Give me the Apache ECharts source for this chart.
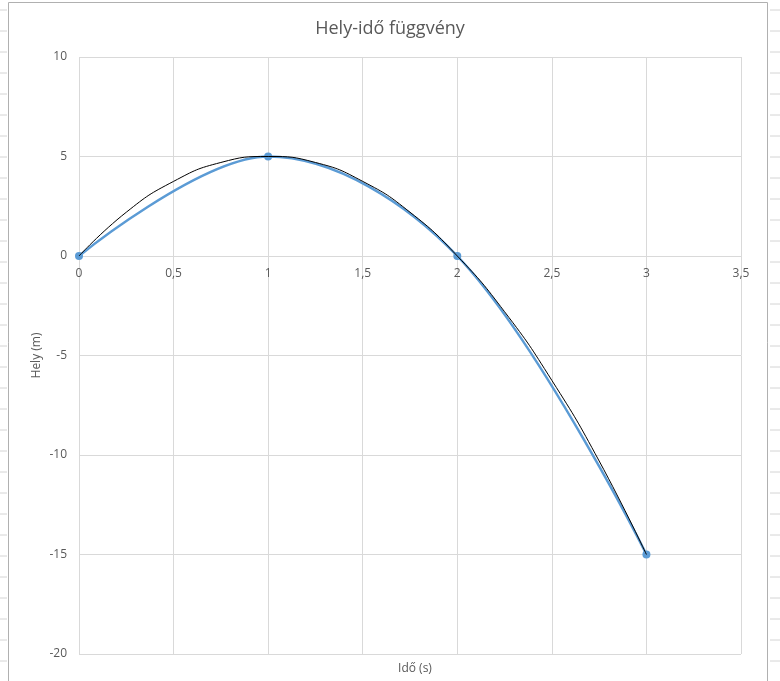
<!DOCTYPE html>
<html>
<head>
<meta charset="utf-8">
<script src="https://cdn.jsdelivr.net/npm/echarts@6/dist/echarts.min.js"></script>
<style>
html,body{margin:0;padding:0;background:#fff;}
#c{width:780px;height:681px;}
</style>
</head>
<body>
<div id="c"></div>
<script>
// Data
var measuredTime = [0, 1, 2, 3];
var measuredPos = [0, 5, 0, -15];
var fitTime = [0, 0.25, 0.5, 0.75, 1, 1.25, 1.5, 1.75, 2, 2.25, 2.5, 2.75, 3];
var fitPos = [0, 2.2, 3.75, 4.7, 5, 4.7, 3.75, 2.2, 0, -2.8, -6.25, -10.3, -15];
var xTicks = ['0', '0,5', '1', '1,5', '2', '2,5', '3', '3,5'];
var titleText = 'Hely-idő függvény';
var xName = 'Idő (s)';
var yName = 'Hely (m)';

var measured = measuredTime.map(function (t, i) { return [t, measuredPos[i]]; });
var fit = fitTime.map(function (t, i) { return [t, fitPos[i]]; });

var chart = echarts.init(document.getElementById('c'));
var font = 'Open Sans';
var lineColor = '#d9d9d9';
var textColor = '#595959';

var gridTop = 57, gridBottom = 27, yMin = -20, yMax = 10;
var plotH = 681 - gridTop - gridBottom;
// move the x axis up so it sits on the y = 0 line
var xAxisOffset = -Math.round(plotH * (0 - yMin) / (yMax - yMin));

var cellLines = [];
for (var y = 10; y < 681; y += 21) {
  cellLines.push({ type: 'line', shape: { x1: 0, y1: y, x2: 7, y2: y }, style: { stroke: '#d4d4d4', lineWidth: 1 }, silent: true });
  cellLines.push({ type: 'line', shape: { x1: 770, y1: y, x2: 780, y2: y }, style: { stroke: '#d4d4d4', lineWidth: 1 }, silent: true });
}

chart.setOption({
  backgroundColor: '#fff',
  animation: false,
  graphic: cellLines.concat([
    { type: 'rect', shape: { x: 8.5, y: 2.5, width: 759, height: 690 }, style: { fill: 'none', stroke: '#b0b0b0', lineWidth: 1 }, silent: true, z: 100 }
  ]),
  title: [
    { text: titleText, left: 'center', top: 15, textStyle: { fontFamily: font, fontSize: 18, fontWeight: 'normal', color: textColor } },
    { text: xName, left: 410, top: 658, textAlign: 'center', textStyle: { fontFamily: font, fontSize: 12, fontWeight: 'normal', color: textColor } }
  ],
  grid: { left: 79, right: 39, top: gridTop, bottom: gridBottom, containLabel: false },
  xAxis: {
    type: 'value', min: 0, max: 3.5, interval: 0.5,
    position: 'bottom', offset: xAxisOffset,
    axisLine: { onZero: false, lineStyle: { color: lineColor } },
    axisTick: { show: false },
    axisLabel: {
      color: textColor, fontFamily: font, fontSize: 12, margin: 12,
      formatter: function (v) { return xTicks[Math.round(v / 0.5)]; }
    },
    splitLine: { show: true, lineStyle: { color: lineColor } }
  },
  yAxis: {
    type: 'value', min: yMin, max: yMax, interval: 5,
    name: yName, nameLocation: 'middle', nameGap: 36, nameRotate: 90,
    nameMoveOverlap: false,
    nameTextStyle: { color: textColor, fontFamily: font, fontSize: 12 },
    axisLine: { show: false, onZero: false },
    axisTick: { show: false },
    axisLabel: { color: textColor, fontFamily: font, fontSize: 12, margin: 12 },
    splitLine: { show: true, lineStyle: { color: lineColor } }
  },
  series: [
    {
      type: 'line', data: measured, smooth: 0.35,
      symbol: 'circle', symbolSize: 8,
      itemStyle: { color: '#5b9bd5' },
      lineStyle: { color: '#5b9bd5', width: 2.5 },
      z: 2
    },
    {
      type: 'line', data: fit, smooth: true,
      symbol: 'none',
      lineStyle: { color: '#000', width: 1 },
      z: 3
    }
  ]
});
</script>
</body>
</html>
